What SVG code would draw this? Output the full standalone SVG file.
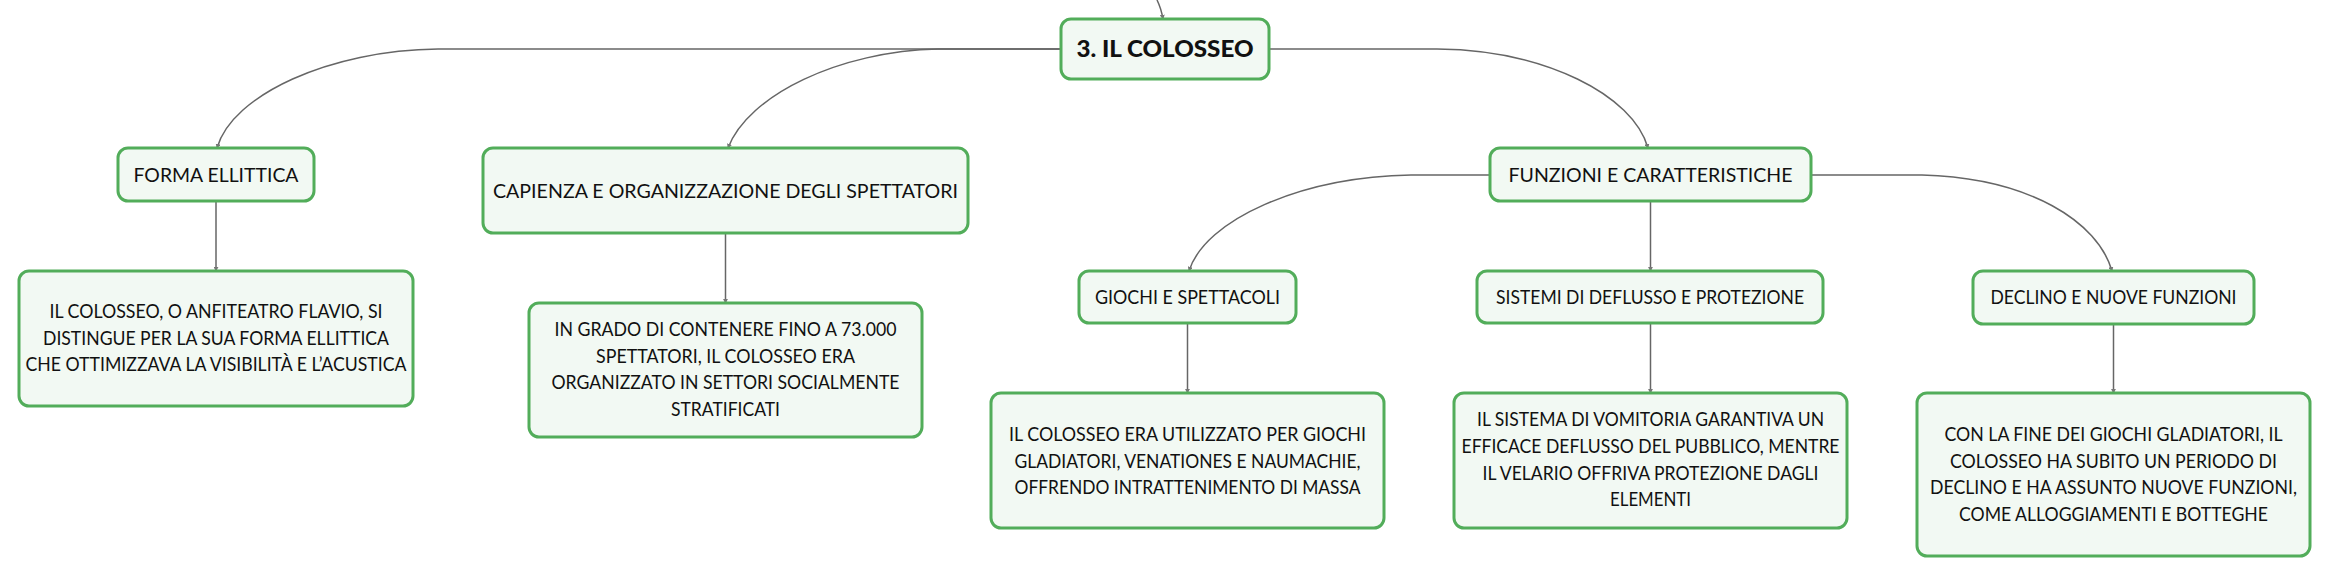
<svg xmlns="http://www.w3.org/2000/svg" width="2330" height="577" viewBox="0 0 2330 577">
<defs>
<marker id="tip" viewBox="0 0 6 6" refX="5" refY="3" markerWidth="5" markerHeight="5" orient="auto" markerUnits="userSpaceOnUse">
<path d="M0,0 L6,3 L0,6 z" fill="#777"/>
</marker>
<style>
.box{fill:#f2f9f3;stroke:#52ad5a;stroke-width:3}
.t{font-family:Lato,"Open Sans","Noto Sans",sans-serif;font-size:19.5px;fill:#111;text-anchor:middle}
.b{font-weight:900;font-size:22px}
.c{fill:none;stroke:#666;stroke-width:1.5;marker-end:url(#tip)}
</style>
</defs>
<rect width="2330" height="577" fill="#ffffff"/>
<g id="connectors">
<path class="c" d="M1157,0 Q1161,8 1163,19"/>
<path class="c" d="M1061,49 H438 C330,50 232,95 217,148"/>
<path class="c" d="M1061,49 H938 C840,51 748,95 728,148"/>
<path class="c" d="M1269,49 H1437 C1545,50 1633,95 1648,148"/>
<path class="c" d="M1490,175 H1411 C1300,177 1205,220 1189,271"/>
<path class="c" d="M1650.5,201 V271"/>
<path class="c" d="M1811,175 H1922 C2030,178 2098,222 2112,271"/>
<path class="c" d="M216,201 V271"/>
<path class="c" d="M725.5,233 V303"/>
<path class="c" d="M1187.5,323 V393"/>
<path class="c" d="M1650.5,323 V393"/>
<path class="c" d="M2113.5,324 V393"/>
</g>
<g id="root">
<rect class="box" x="1061" y="19" width="208" height="60" rx="10"/>
<text class="t b" x="1165" y="57" textLength="177" lengthAdjust="spacingAndGlyphs">3. IL COLOSSEO</text>
</g>
<g id="forma">
<rect class="box" x="118" y="148" width="196" height="53" rx="10"/>
<text class="t" x="216" y="181.5" textLength="165" lengthAdjust="spacingAndGlyphs">FORMA ELLITTICA</text>
</g>
<g id="forma-desc">
<rect class="box" x="19" y="271" width="394" height="135" rx="10"/>
<text class="t" x="216" y="318" textLength="333" lengthAdjust="spacingAndGlyphs">IL COLOSSEO, O ANFITEATRO FLAVIO, SI</text>
<text class="t" x="216" y="344.5" textLength="346" lengthAdjust="spacingAndGlyphs">DISTINGUE PER LA SUA FORMA ELLITTICA</text>
<text class="t" x="216" y="371" textLength="381" lengthAdjust="spacingAndGlyphs">CHE OTTIMIZZAVA LA VISIBILITÀ E L’ACUSTICA</text>
</g>
<g id="capienza">
<rect class="box" x="483" y="148" width="485" height="85" rx="10"/>
<text class="t" x="725.5" y="198" textLength="465" lengthAdjust="spacingAndGlyphs">CAPIENZA E ORGANIZZAZIONE DEGLI SPETTATORI</text>
</g>
<g id="capienza-desc">
<rect class="box" x="529" y="303" width="393" height="134" rx="10"/>
<text class="t" x="725.5" y="336" textLength="342" lengthAdjust="spacingAndGlyphs">IN GRADO DI CONTENERE FINO A 73.000</text>
<text class="t" x="725.5" y="362.5" textLength="259" lengthAdjust="spacingAndGlyphs">SPETTATORI, IL COLOSSEO ERA</text>
<text class="t" x="725.5" y="389" textLength="348" lengthAdjust="spacingAndGlyphs">ORGANIZZATO IN SETTORI SOCIALMENTE</text>
<text class="t" x="725.5" y="415.5" textLength="109" lengthAdjust="spacingAndGlyphs">STRATIFICATI</text>
</g>
<g id="funzioni">
<rect class="box" x="1490" y="148" width="321" height="53" rx="10"/>
<text class="t" x="1650.5" y="182" textLength="284" lengthAdjust="spacingAndGlyphs">FUNZIONI E CARATTERISTICHE</text>
</g>
<g id="giochi">
<rect class="box" x="1079" y="271" width="217" height="52" rx="10"/>
<text class="t" x="1187.5" y="304" textLength="185" lengthAdjust="spacingAndGlyphs">GIOCHI E SPETTACOLI</text>
</g>
<g id="giochi-desc">
<rect class="box" x="991" y="393" width="393" height="135" rx="10"/>
<text class="t" x="1187.5" y="441" textLength="357" lengthAdjust="spacingAndGlyphs">IL COLOSSEO ERA UTILIZZATO PER GIOCHI</text>
<text class="t" x="1187.5" y="467.5" textLength="346" lengthAdjust="spacingAndGlyphs">GLADIATORI, VENATIONES E NAUMACHIE,</text>
<text class="t" x="1187.5" y="494" textLength="346" lengthAdjust="spacingAndGlyphs">OFFRENDO INTRATTENIMENTO DI MASSA</text>
</g>
<g id="sistemi">
<rect class="box" x="1477" y="271" width="346" height="52" rx="10"/>
<text class="t" x="1650" y="304" textLength="308" lengthAdjust="spacingAndGlyphs">SISTEMI DI DEFLUSSO E PROTEZIONE</text>
</g>
<g id="sistemi-desc">
<rect class="box" x="1454" y="393" width="393" height="135" rx="10"/>
<text class="t" x="1650.5" y="426" textLength="347" lengthAdjust="spacingAndGlyphs">IL SISTEMA DI VOMITORIA GARANTIVA UN</text>
<text class="t" x="1650.5" y="452.5" textLength="378" lengthAdjust="spacingAndGlyphs">EFFICACE DEFLUSSO DEL PUBBLICO, MENTRE</text>
<text class="t" x="1650.5" y="479.5" textLength="336" lengthAdjust="spacingAndGlyphs">IL VELARIO OFFRIVA PROTEZIONE DAGLI</text>
<text class="t" x="1650.5" y="506" textLength="81" lengthAdjust="spacingAndGlyphs">ELEMENTI</text>
</g>
<g id="declino">
<rect class="box" x="1973" y="271" width="281" height="53" rx="10"/>
<text class="t" x="2113.5" y="304" textLength="246" lengthAdjust="spacingAndGlyphs">DECLINO E NUOVE FUNZIONI</text>
</g>
<g id="declino-desc">
<rect class="box" x="1917" y="393" width="393" height="163" rx="10"/>
<text class="t" x="2113.5" y="441" textLength="338" lengthAdjust="spacingAndGlyphs">CON LA FINE DEI GIOCHI GLADIATORI, IL</text>
<text class="t" x="2113.5" y="467.5" textLength="327" lengthAdjust="spacingAndGlyphs">COLOSSEO HA SUBITO UN PERIODO DI</text>
<text class="t" x="2113.5" y="494" textLength="367" lengthAdjust="spacingAndGlyphs">DECLINO E HA ASSUNTO NUOVE FUNZIONI,</text>
<text class="t" x="2113.5" y="520.5" textLength="309" lengthAdjust="spacingAndGlyphs">COME ALLOGGIAMENTI E BOTTEGHE</text>
</g>
</svg>
